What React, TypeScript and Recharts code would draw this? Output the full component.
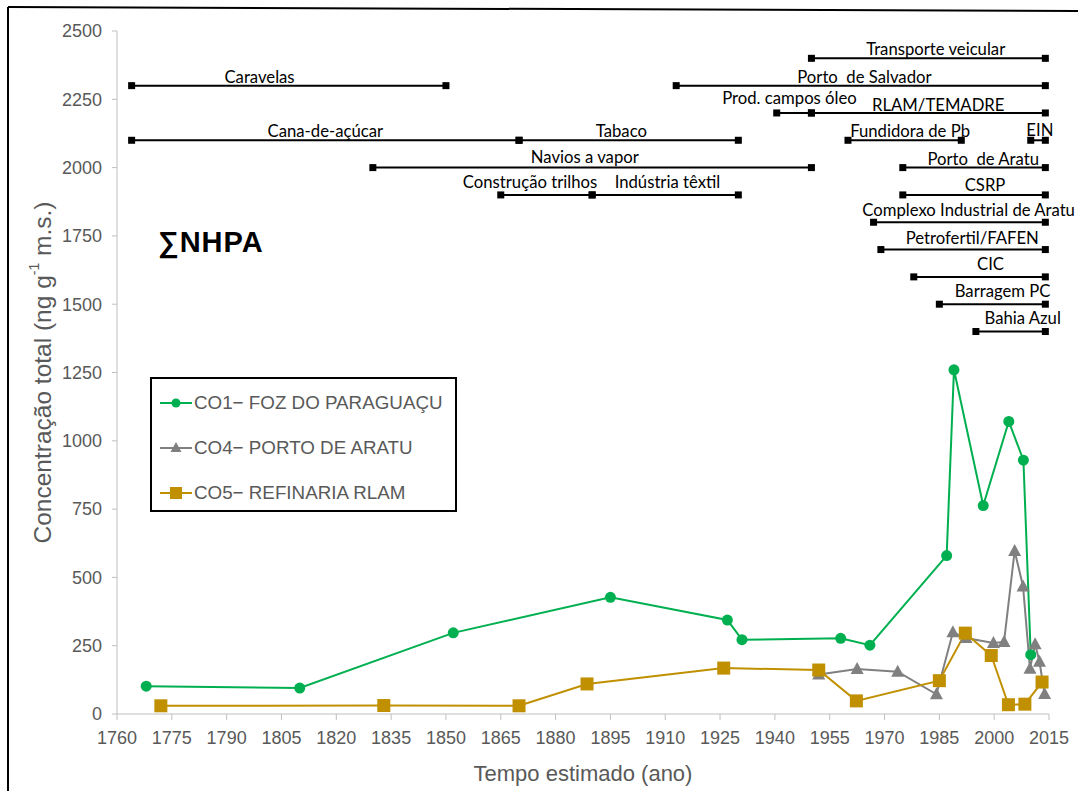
import React from "react";
import { ComposedChart, Line, Scatter, XAxis, YAxis, Legend } from "recharts";

// axis ticks
const xTicks = [1760, 1775, 1790, 1805, 1820, 1835, 1850, 1865, 1880, 1895, 1910, 1925, 1940, 1955, 1970, 1985, 2000, 2015];
const yTicks = [0, 250, 500, 750, 1000, 1250, 1500, 1750, 2000, 2250, 2500];

// sediment cores, ∑NHPA (ng g-1 m.s.)
const seriesNames = ["CO1− FOZ DO PARAGUAÇU", "CO4− PORTO DE ARATU", "CO5− REFINARIA RLAM"];

const co1Years = [1768, 1810, 1852, 1895, 1927, 1931, 1958, 1966, 1987, 1989, 1997, 2004, 2008, 2010];
const co1Values = [102, 95, 297, 427, 344, 272, 277, 252, 580, 1260, 763, 1071, 929, 217];

const co4Years = [1952, 1962.5, 1973.6, 1984.2, 1988.7, 1992.3, 1999.8, 2002.7, 2005.6, 2007.9, 2009.8, 2011.2, 2012.4, 2013.8];
const co4Values = [145, 165, 155, 72, 299, 278, 260, 264, 597, 467, 166, 255, 191, 73];

const co5Years = [1772, 1833, 1870, 1888.6, 1926, 1952, 1962.3, 1985, 1992.1, 1999.2, 2003.9, 2008.4, 2013.1];
const co5Values = [30, 31, 30, 110, 168, 161, 48, 122, 296, 214, 34, 36, 117];

// historical events (timeline bars)
const eventNames = [
  "Transporte veicular", "Caravelas", "Porto  de Salvador", "Prod. campos óleo", "RLAM/TEMADRE",
  "Cana-de-açúcar", "Tabaco", "Fundidora de Pb", "EIN", "Navios a vapor", "Porto  de Aratu",
  "Construção trilhos", "Indústria têxtil", "CSRP", "Complexo Industrial de Aratu",
  "Petrofertil/FAFEN", "CIC", "Barragem PC", "Bahia Azul",
];
const eventStarts = [1950, 1764, 1913, 1940.5, 1950, 1764, 1870, 1960, 2010, 1830, 1975, 1865, 1890, 1975, 1967, 1969, 1978, 1985, 1995];
const eventEnds = [2014, 1850, 2014, 1950, 2014, 1870, 1930, 1991, 2014, 1950, 2014, 1890, 1930, 2014, 2014, 2014, 2014, 2014, 2014];
const eventLevels = [2400, 2300, 2300, 2200, 2200, 2100, 2100, 2100, 2100, 2000, 2000, 1900, 1900, 1900, 1800, 1700, 1600, 1500, 1400];
const labelYears = [1984, 1799, 1964.5, 1944, 1984.7, 1817, 1898, 1977, 2012.5, 1888, 1997, 1873, 1910.6, 1997.5, 1993, 1994, 1999, 2002.3, 2007.8];
const labelLevels = [2400, 2300, 2300, 2222, 2195, 2100, 2100, 2100, 2105, 2007, 2000, 1915, 1915, 1905, 1811, 1710, 1616, 1514, 1416];

const GREEN = "#00b050";
const GRAY = "#808080";
const GOLD = "#c09000";
const TEXT = "#595959";
const AXIS = "#bfbfbf";

const toPoints = (xs: number[], ys: number[]) => xs.map((x, i) => ({ year: x, v: ys[i] }));

const co1 = toPoints(co1Years, co1Values);
const co4 = toPoints(co4Years, co4Values);
const co5 = toPoints(co5Years, co5Values);

const labelData = eventNames.map((name, i) => ({ year: labelYears[i], v: labelLevels[i], name }));

function circleDot(p: any) {
  if (p.cx == null) return <g key={`c-${p.index}`} />;
  return <circle key={`c-${p.index}`} cx={p.cx} cy={p.cy} r={5.5} fill={GREEN} />;
}

function triangleDot(p: any) {
  if (p.cx == null) return <g key={`t-${p.index}`} />;
  const { cx, cy } = p;
  return <polygon key={`t-${p.index}`} points={`${cx},${cy - 7} ${cx + 6.5},${cy + 5} ${cx - 6.5},${cy + 5}`} fill={GRAY} />;
}

function squareDot(p: any) {
  if (p.cx == null) return <g key={`s-${p.index}`} />;
  return <rect key={`s-${p.index}`} x={p.cx - 6.5} y={p.cy - 6.5} width={13} height={13} fill={GOLD} />;
}

function eventDot(p: any) {
  if (p.cx == null) return <g key={`e-${p.index}`} />;
  return <rect key={`e-${p.index}`} x={p.cx - 3.5} y={p.cy - 3.5} width={7} height={7} fill="#000" />;
}

function EventLabel(p: any) {
  return (
    <text x={p.cx} y={p.cy - 3} textAnchor="middle" fontFamily="Lato, 'Open Sans', sans-serif" fontSize={16.7} fill="#000" style={{ whiteSpace: "pre" }}>
      {p.payload.name}
    </text>
  );
}

function YTitle(props: any) {
  const vb = props.viewBox || {};
  const cx = 42;
  const cy = (vb.y ?? 31) + (vb.height ?? 683) / 2;
  return (
    <text x={cx} y={cy} transform={`rotate(-90 ${cx} ${cy})`} textAnchor="middle" dominantBaseline="central" fill={TEXT} fontSize={24.5} fontFamily="'Liberation Sans', Arial, sans-serif">
      Concentração total (ng g<tspan baselineShift="super" fontSize={14}>-1</tspan> m.s.)
    </text>
  );
}

function LegendBox() {
  const icons = [
    <circle cx={16} cy={8} r={4.5} fill={GREEN} />,
    <polygon points="16,2 21.5,12 10.5,12" fill={GRAY} />,
    <rect x={10} y={2} width={12} height={12} fill={GOLD} />,
  ];
  const colors = [GREEN, GRAY, GOLD];
  return (
    <div style={{ width: 307, height: 135, border: "2px solid #000", boxSizing: "border-box", background: "#fff", paddingTop: 1 }}>
      {seriesNames.map((name, i) => (
        <div key={name} style={{ display: "flex", alignItems: "center", height: 45, paddingLeft: 8 }}>
          <svg width={34} height={16} style={{ flex: "none" }}>
            <line x1={0} y1={8} x2={32} y2={8} stroke={colors[i]} strokeWidth={2} />
            {icons[i]}
          </svg>
          <span style={{ fontFamily: "'Liberation Sans', Arial, sans-serif", fontSize: 18.8, color: TEXT, whiteSpace: "nowrap" }}>{name}</span>
        </div>
      ))}
    </div>
  );
}

export default function App() {
  return (
    <div style={{ position: "absolute", left: 0, top: 0, width: 1078, height: 791, background: "#fff", overflow: "hidden" }}>
      <ComposedChart
        width={1078}
        height={791}
        margin={{ top: 31, right: 29, bottom: 0, left: 0 }}
        style={{ fontFamily: "'Liberation Sans', Arial, sans-serif" }}
      >
        <XAxis
          type="number"
          dataKey="year"
          domain={[1760, 2015]}
          ticks={xTicks}
          interval={0}
          height={77}
          stroke={AXIS}
          tickSize={6}
          tickMargin={11}
          tick={{ fill: TEXT, fontSize: 18 }}
          label={{ value: "Tempo estimado (ano)", position: "insideBottom", offset: 10, fill: TEXT, fontSize: 22 }}
        />
        <YAxis
          type="number"
          domain={[0, 2500]}
          ticks={yTicks}
          interval={0}
          width={117}
          stroke={AXIS}
          tickSize={5}
          tickMargin={10}
          tick={{ fill: TEXT, fontSize: 18 }}
          label={<YTitle />}
        />
        {eventNames.map((name, i) => (
          <Line
            key={name}
            data={[
              { year: eventStarts[i], v: eventLevels[i] },
              { year: eventEnds[i], v: eventLevels[i] },
            ]}
            dataKey="v"
            stroke="#000"
            strokeWidth={2}
            dot={eventDot}
            activeDot={false}
            legendType="none"
            isAnimationActive={false}
          />
        ))}
        <Scatter data={labelData} dataKey="v" shape={EventLabel} legendType="none" isAnimationActive={false} />
        <Line data={co1} dataKey="v" name={seriesNames[0]} stroke={GREEN} strokeWidth={2} dot={circleDot} activeDot={false} isAnimationActive={false} />
        <Line data={co4} dataKey="v" name={seriesNames[1]} stroke={GRAY} strokeWidth={2} dot={triangleDot} activeDot={false} isAnimationActive={false} />
        <Line data={co5} dataKey="v" name={seriesNames[2]} stroke={GOLD} strokeWidth={2} dot={squareDot} activeDot={false} isAnimationActive={false} />
        <Legend
          verticalAlign="middle"
          align="center"
          wrapperStyle={{ left: 150, top: 377, width: 307, height: 135 }}
          content={() => <LegendBox />}
        />
      </ComposedChart>
      <div
        style={{
          position: "absolute",
          left: 158,
          top: 224,
          fontFamily: "'Liberation Sans', Arial, sans-serif",
          fontWeight: "bold",
          fontSize: 29,
          letterSpacing: 1,
          color: "#000",
          lineHeight: "36px",
        }}
      >
        ∑NHPA
      </div>
      <svg width={1078} height={791} style={{ position: "absolute", left: 0, top: 0, pointerEvents: "none" }}>
        <line x1={8} y1={7} x2={1078} y2={11} stroke="#000" strokeWidth={2} />
        <line x1={8} y1={7} x2={8} y2={791} stroke="#000" strokeWidth={2} />
      </svg>
    </div>
  );
}
